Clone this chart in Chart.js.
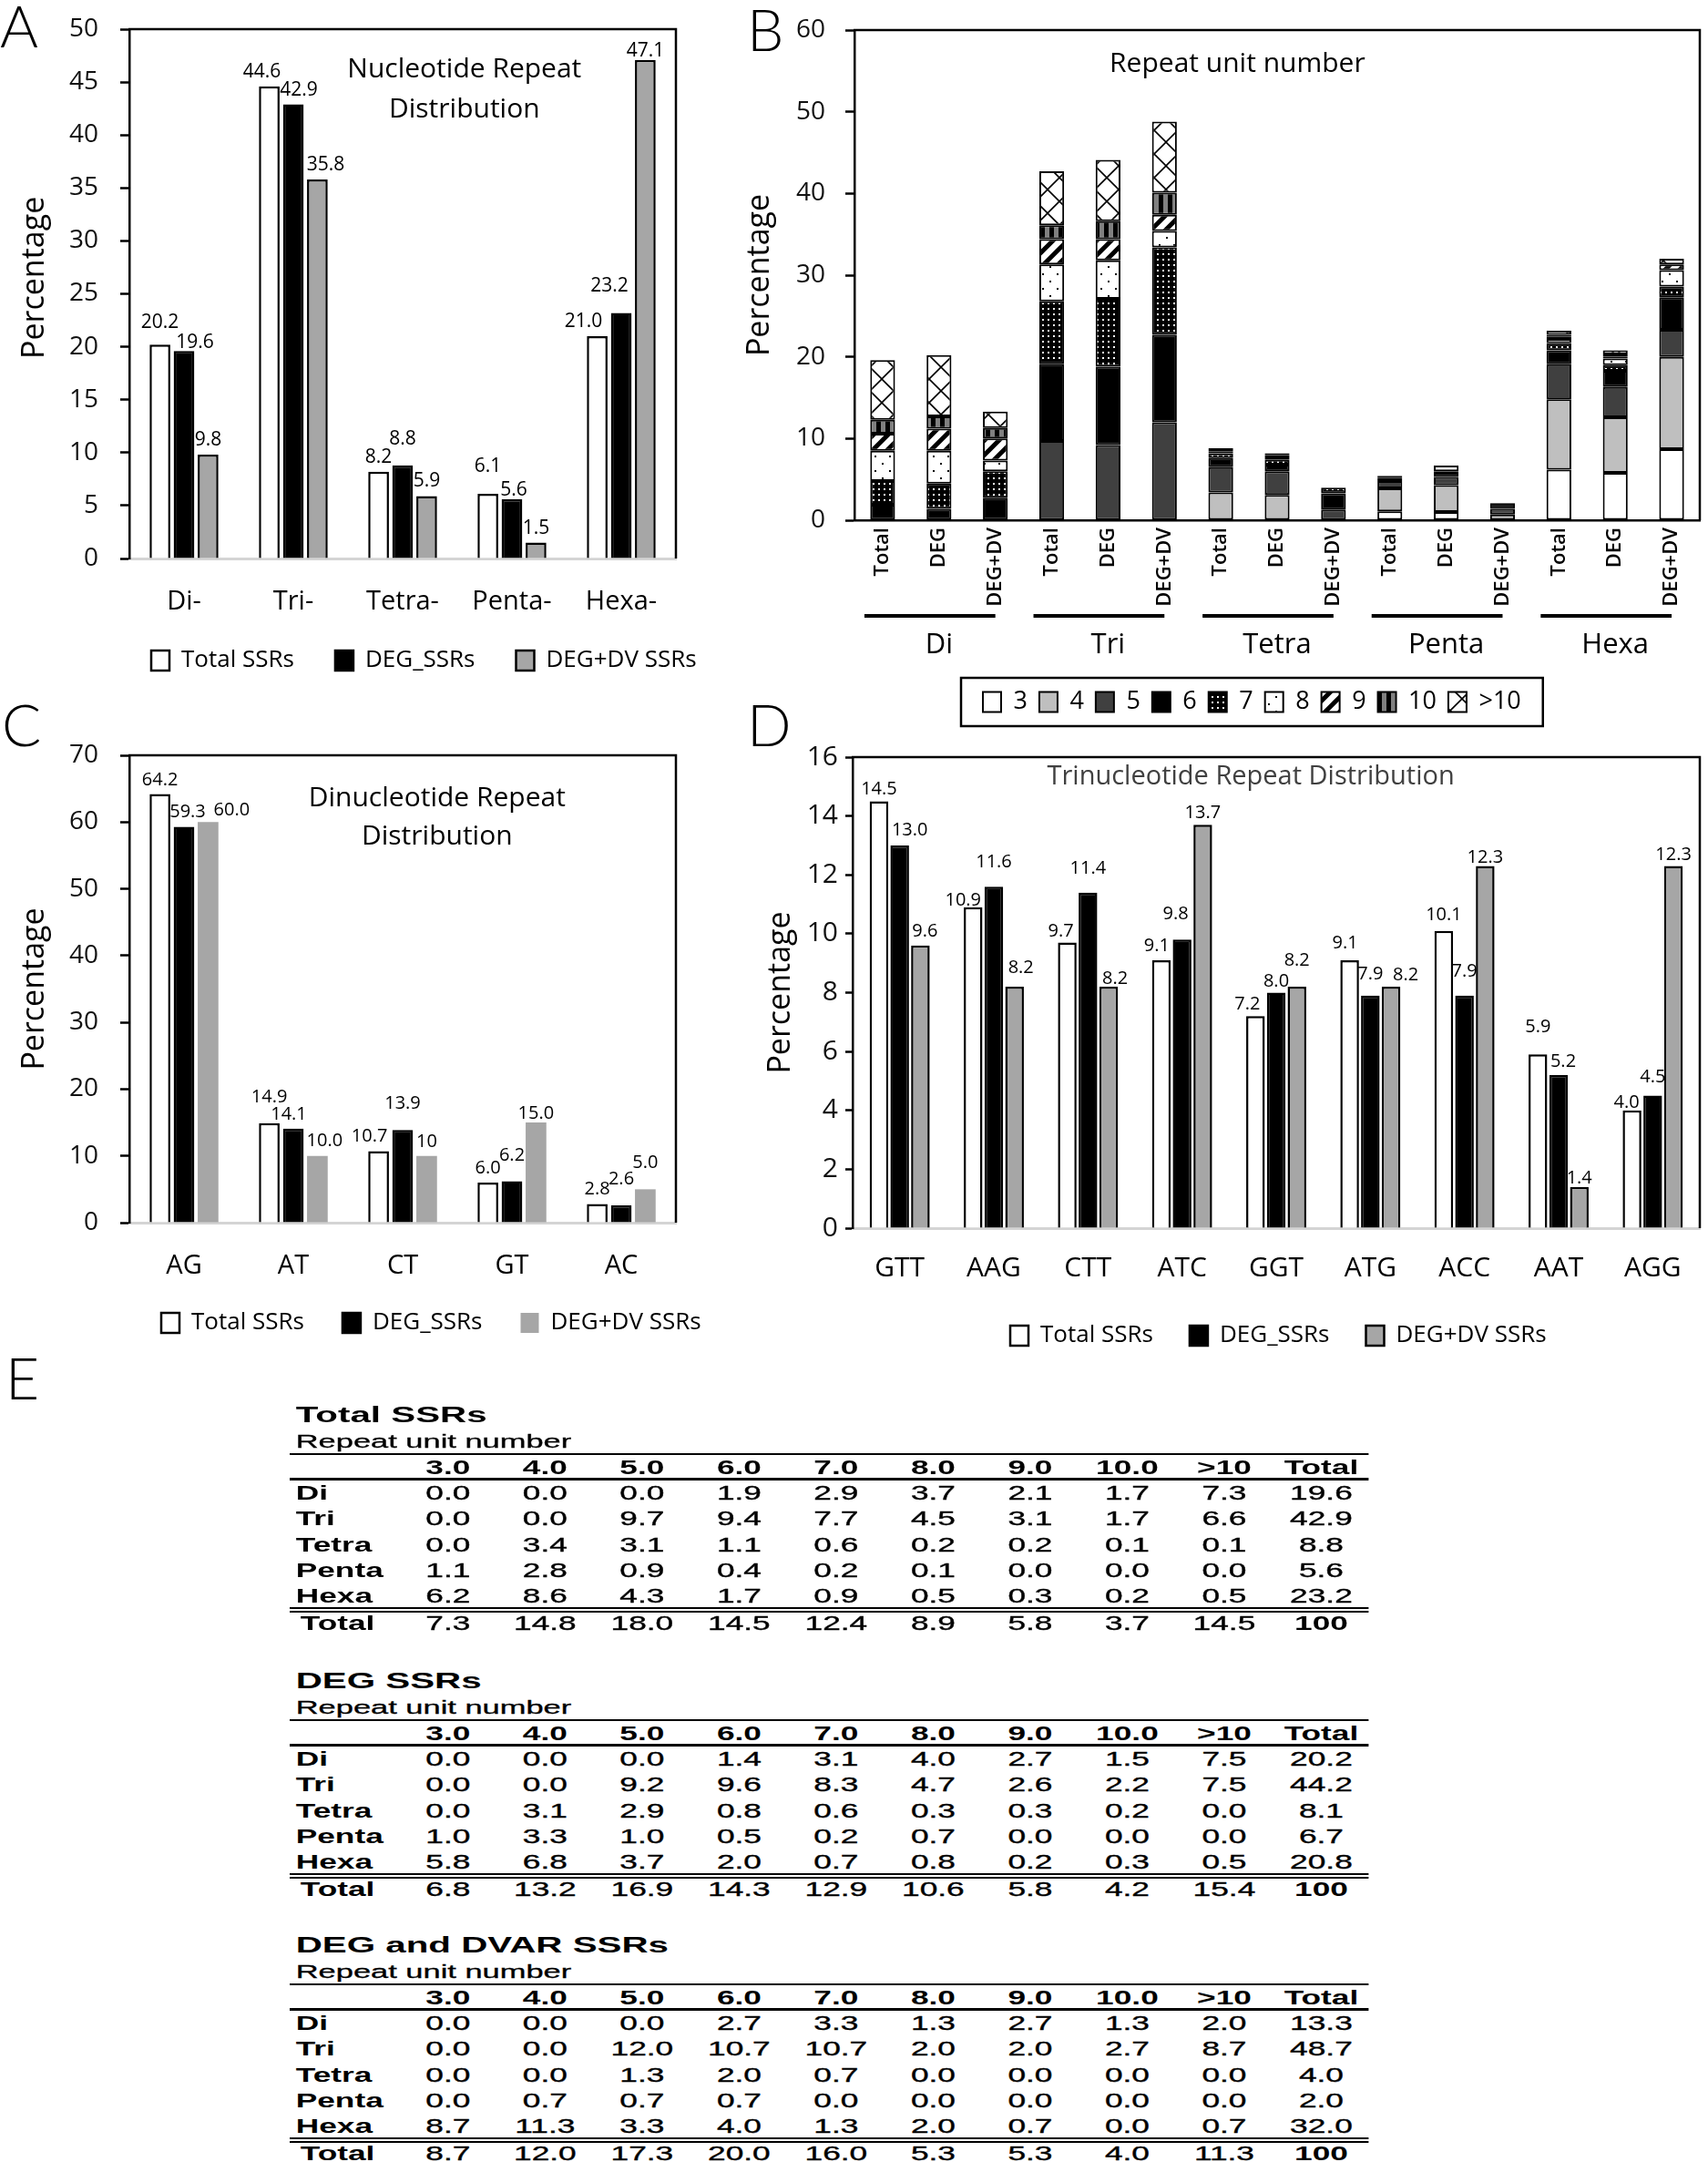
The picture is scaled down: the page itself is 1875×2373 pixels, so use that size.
<!DOCTYPE html>
<html>
<head>
<meta charset="utf-8">
<title>SSR repeat distribution</title>
<script src="https://cdn.jsdelivr.net/npm/chart.js@4.4.1/dist/chart.umd.min.js"></script>
<style>
  html, body { margin: 0; padding: 0; background: #fff; }
  body { position: relative; width: 1875px; height: 2373px; overflow: hidden; }
  canvas { position: absolute; }
  .tag { position: absolute; font-family: Lato, 'Open Sans', sans-serif; font-weight: 300; font-size: 64px; line-height: 1; color: #000; }
  .ssr { position: absolute; left: 318px; width: 705px; height: 260px; transform: scaleX(1.68); transform-origin: 0 0;
         font-family: 'Liberation Sans', Arial, sans-serif; color: #000; }
  .ssr div { position: absolute; white-space: nowrap; }
  .ssr .ttl { left: 4px; top: 0; font-weight: bold; font-size: 24px; line-height: 30px; }
  .ssr .sub { left: 4px; top: 29px; font-size: 20.5px; line-height: 30px; -webkit-text-stroke: 0.3px #000; }
  .ssr .rule { left: 0; width: 705px; background: #000; }
  .ssr .cell { font-size: 21px; line-height: 28px; height: 28px; text-align: center; width: 63.4px;
               -webkit-text-stroke: 0.35px #000; transform: scaleY(1.08); }
  .ssr .lab { font-size: 21px; line-height: 28px; height: 28px; font-weight: bold; transform: scaleY(1.08); }
  .ssr .b { font-weight: bold; -webkit-text-stroke: 0; }
</style>
</head>
<body>
<canvas id="chartA" width="800" height="780" style="left:0;top:0"></canvas>
<canvas id="chartC" width="800" height="790" style="left:0;top:760px"></canvas>
<canvas id="chartD" width="1063" height="740" style="left:812px;top:780px"></canvas>
<canvas id="chartB" width="1063" height="820" style="left:812px;top:0"></canvas>
<div class="tag" style="left:0;top:-4px">A</div>
<div class="tag" style="left:820px;top:0">B</div>
<div class="tag" style="left:2px;top:763px">C</div>
<div class="tag" style="left:820px;top:763px">D</div>
<div class="tag" style="left:6px;top:1480px">E</div>
<div id="tables"></div>
<script>
// Panel A - nucleotide repeat distribution (%)
const sizeClasses = ['Di-', 'Tri-', 'Tetra-', 'Penta-', 'Hexa-'];
const nucTotal = [20.2, 44.6, 8.2, 6.1, 21.0];
const nucDeg = [19.6, 42.9, 8.8, 5.6, 23.2];
const nucDegDv = [9.8, 35.8, 5.9, 1.5, 47.1];

// Panel C - dinucleotide motifs (%)
const diMotifs = ['AG', 'AT', 'CT', 'GT', 'AC'];
const diTotal = [64.2, 14.9, 10.7, 6.0, 2.8];
const diDeg = [59.3, 14.1, 13.9, 6.2, 2.6];
const diDegDv = [60.0, 10.0, 10, 15.0, 5.0];
const diDegDvText = ['60.0', '10.0', '10', '15.0', '5.0'];

// Panel D - trinucleotide motifs (%)
const triMotifs = ['GTT', 'AAG', 'CTT', 'ATC', 'GGT', 'ATG', 'ACC', 'AAT', 'AGG'];
const triTotal = [14.5, 10.9, 9.7, 9.1, 7.2, 9.1, 10.1, 5.9, 4.0];
const triDeg = [13.0, 11.6, 11.4, 9.8, 8.0, 7.9, 7.9, 5.2, 4.5];
const triDegDv = [9.6, 8.2, 8.2, 13.7, 8.2, 8.2, 12.3, 1.4, 12.3];

// Panels B and E - repeat unit number tables (columns 3..>10, then row total)
const repeatClasses = ['Di', 'Tri', 'Tetra', 'Penta', 'Hexa'];
const subsets = ['Total', 'DEG', 'DEG+DV'];
const unitLabels = ['3', '4', '5', '6', '7', '8', '9', '10', '>10'];
const tableHeads = ['3.0', '4.0', '5.0', '6.0', '7.0', '8.0', '9.0', '10.0', '>10', 'Total'];

const totalSsrRows = [
    [0.0, 0.0, 0.0, 1.9, 2.9, 3.7, 2.1, 1.7, 7.3, 19.6],
    [0.0, 0.0, 9.7, 9.4, 7.7, 4.5, 3.1, 1.7, 6.6, 42.9],
    [0.0, 3.4, 3.1, 1.1, 0.6, 0.2, 0.2, 0.1, 0.1, 8.8],
    [1.1, 2.8, 0.9, 0.4, 0.2, 0.1, 0.0, 0.0, 0.0, 5.6],
    [6.2, 8.6, 4.3, 1.7, 0.9, 0.5, 0.3, 0.2, 0.5, 23.2]
];
const totalSsrSums = [7.3, 14.8, 18.0, 14.5, 12.4, 8.9, 5.8, 3.7, 14.5, 100];

const degSsrRows = [
    [0.0, 0.0, 0.0, 1.4, 3.1, 4.0, 2.7, 1.5, 7.5, 20.2],
    [0.0, 0.0, 9.2, 9.6, 8.3, 4.7, 2.6, 2.2, 7.5, 44.2],
    [0.0, 3.1, 2.9, 0.8, 0.6, 0.3, 0.3, 0.2, 0.0, 8.1],
    [1.0, 3.3, 1.0, 0.5, 0.2, 0.7, 0.0, 0.0, 0.0, 6.7],
    [5.8, 6.8, 3.7, 2.0, 0.7, 0.8, 0.2, 0.3, 0.5, 20.8]
];
const degSsrSums = [6.8, 13.2, 16.9, 14.3, 12.9, 10.6, 5.8, 4.2, 15.4, 100];

const dvSsrRows = [
    [0.0, 0.0, 0.0, 2.7, 3.3, 1.3, 2.7, 1.3, 2.0, 13.3],
    [0.0, 0.0, 12.0, 10.7, 10.7, 2.0, 2.0, 2.7, 8.7, 48.7],
    [0.0, 0.0, 1.3, 2.0, 0.7, 0.0, 0.0, 0.0, 0.0, 4.0],
    [0.0, 0.7, 0.7, 0.7, 0.0, 0.0, 0.0, 0.0, 0.0, 2.0],
    [8.7, 11.3, 3.3, 4.0, 1.3, 2.0, 0.7, 0.0, 0.7, 32.0]
];
const dvSsrSums = [8.7, 12.0, 17.3, 20.0, 16.0, 5.3, 5.3, 4.0, 11.3, 100];

// hand-moved value labels, as in the original figure ("dataset:index" -> [dx, dy] px)
const labelNudges = {
    chartA: {
        '0:0': [0, -8], '1:0': [12, 7], '0:1': [-8, 0], '1:1': [6, 0], '2:1': [9, 0],
        '1:2': [0, -13], '0:3': [0, -14], '1:3': [2, 6], '0:4': [-15, 0], '1:4': [-13, -13], '2:4': [0, 6]
    },
    chartC: {
        '1:0': [4, 0], '2:0': [26, 3], '0:1': [0, -13], '1:1': [-5, 0], '2:1': [8, -1],
        '0:2': [-10, -1], '1:2': [0, -13], '1:3': [0, -13], '2:3': [0, 6], '1:4': [0, -13], '2:4': [0, -13]
    },
    chartD: {
        '1:0': [11, -4], '2:0': [5, -3], '0:1': [-11, 5], '1:1': [0, -14], '2:1': [7, -8],
        '0:2': [-7, 0], '1:2': [0, -14], '2:2': [7, 4], '0:3': [-5, -3], '1:3': [-7, -15],
        '0:4': [-9, 0], '2:4': [0, -16], '0:5': [-5, -6], '1:5': [0, -11], '2:5': [16, 0],
        '0:6': [0, -5], '1:6': [0, -14], '2:6': [0, 3], '0:7': [0, -17], '1:7': [5, -2],
        '2:7': [0, 3], '0:8': [-6, 4], '1:8': [0, -8]
    }
};

Chart.defaults.animation = false;
Chart.defaults.responsive = false;
Chart.defaults.color = '#000';
Chart.defaults.font.family = "'Open Sans', 'Noto Sans', sans-serif";
Chart.defaults.plugins.tooltip.enabled = false;

const SANS = "'Open Sans', 'Noto Sans', sans-serif";

// top + right border of the plot box
const frame = {
    id: 'frame',
    afterDatasetsDraw(chart) {
        const {ctx, chartArea: a} = chart;
        ctx.save();
        ctx.strokeStyle = '#000';
        ctx.lineWidth = 2.5;
        ctx.beginPath();
        ctx.moveTo(a.left - 1, a.top);
        ctx.lineTo(a.right, a.top);
        ctx.lineTo(a.right, a.bottom);
        ctx.stroke();
        ctx.restore();
    }
};

// title written inside the plot area
const innerTitle = {
    id: 'innerTitle',
    afterDraw(chart, args, opts) {
        const {ctx, chartArea: a} = chart;
        ctx.save();
        ctx.font = opts.fontCss;
        ctx.fillStyle = opts.color;
        ctx.textAlign = 'center';
        ctx.textBaseline = 'middle';
        const x = a.left + a.width * opts.x;
        opts.text.split('\n').forEach((t, i) => {
            ctx.fillText(t, x, a.top + opts.y + i * opts.lineHeight);
        });
        ctx.restore();
    }
};

// numbers above the bars
const valueLabels = {
    id: 'valueLabels',
    afterDatasetsDraw(chart, args, opts) {
        const ctx = chart.ctx;
        const nudge = labelNudges[chart.canvas.id] || {};
        ctx.save();
        ctx.font = opts.fontCss;
        ctx.fillStyle = '#000';
        ctx.textAlign = 'center';
        ctx.textBaseline = 'alphabetic';
        chart.data.datasets.forEach((ds, i) => {
            const texts = ds.valueText || ds.data.map(v => v.toFixed(1));
            chart.getDatasetMeta(i).data.forEach((bar, j) => {
                const [dx, dy] = nudge[i + ':' + j] || [0, 0];
                ctx.fillText(texts[j], bar.x + dx, bar.y - opts.gap + dy);
            });
        });
        ctx.restore();
    }
};

// fixed legend height for layout, then move the legend where it belongs
const legendSpot = {
    id: 'legendSpot',
    beforeInit(chart, args, opts) {
        const fitValue = chart.legend.fit;
        chart.legend.fit = function fit() {
            fitValue.bind(chart.legend)();
            this.height = opts.height;
        };
    },
    afterLayout(chart, args, opts) {
        const lg = chart.legend;
        const w = lg.right - lg.left;
        lg.left = opts.x;
        lg.right = opts.x + w;
        lg.top = opts.y;
        lg.bottom = opts.y + 110;
    },
    afterDraw(chart, args, opts) {
        if (!opts.box) return;
        const lg = chart.legend;
        const pad = lg.options.labels.padding;
        const ctx = chart.ctx;
        ctx.save();
        ctx.strokeStyle = '#000';
        ctx.lineWidth = 2.5;
        ctx.strokeRect(lg.left + pad - opts.box, lg.top, lg.lineWidths[0] - pad + 2 * opts.box, opts.boxHeight);
        ctx.restore();
    }
};

// Di / Tri / ... group lines under the rotated labels of panel B
const groupAxis = {
    id: 'groupAxis',
    afterDraw(chart, args, opts) {
        const {ctx, chartArea: a} = chart;
        const x = chart.scales.x;
        const n = subsets.length;
        ctx.save();
        ctx.strokeStyle = '#000';
        ctx.lineWidth = 4;
        ctx.font = opts.fontCss;
        ctx.fillStyle = '#000';
        ctx.textAlign = 'center';
        ctx.textBaseline = 'middle';
        repeatClasses.forEach((name, g) => {
            const x0 = x.getPixelForValue(g * n);
            const x1 = x.getPixelForValue(g * n + n - 1);
            ctx.beginPath();
            ctx.moveTo(x0 - opts.lead, a.bottom + opts.lineY);
            ctx.lineTo(x1, a.bottom + opts.lineY);
            ctx.stroke();
            ctx.fillText(name, (x0 + x1) / 2, a.bottom + opts.textY);
        });
        ctx.restore();
    }
};

function fixedWidth(w) {
    return s => {
        s.width = w;
        s.paddingTop = 0;
        s.paddingBottom = 0;
    };
}

function groupedOptions(p) {
    return {
        layout: {padding: {left: 0, top: p.top, right: p.right, bottom: p.bottom}},
        datasets: {bar: {categoryPercentage: p.cat, barPercentage: p.bar}},
        scales: {
            x: {
                grid: {display: false, drawTicks: false},
                border: {color: '#d4d4d4', width: 3},
                ticks: {color: '#000', font: {family: SANS, size: p.xSize}, padding: p.xPad},
                afterFit: s => { s.height = 80; }
            },
            y: {
                min: 0,
                max: p.max,
                border: {color: '#000', width: 2.5},
                grid: {drawOnChartArea: false, tickLength: p.tick, tickWidth: 2.5, tickColor: '#000'},
                ticks: {stepSize: p.step, color: '#111', font: {family: SANS, size: p.ySize}, padding: p.yPad},
                title: {display: true, text: p.yTitle, color: '#000', font: {family: SANS, size: 34}, padding: {top: p.titlePad, bottom: 0}},
                afterFit: fixedWidth(p.yWidth)
            }
        },
        plugins: {
            legend: {
                position: 'bottom',
                align: 'start',
                labels: {color: '#000', boxWidth: 20, boxHeight: 22, padding: p.legPad, font: {family: SANS, size: p.legSize}}
            },
            legendSpot: {x: p.legX, y: p.legY, height: 60},
            innerTitle: {text: p.title, fontCss: p.titleFont, color: p.titleColor, x: p.titleX, y: p.titleY, lineHeight: p.titleLh},
            valueLabels: {fontCss: p.valFont, gap: p.gap}
        }
    };
}

function threeSets(total, deg, dv, dvBorder) {
    return [
        {label: 'Total SSRs', data: total, backgroundColor: '#fff', borderColor: '#000', borderWidth: 2.5},
        {label: 'DEG_SSRs', data: deg, backgroundColor: '#000', borderColor: '#000', borderWidth: 2.5},
        {label: 'DEG+DV SSRs', data: dv, backgroundColor: '#a6a6a6', borderColor: '#000', borderWidth: dvBorder}
    ];
}

// Panel A (leading blanks lift the axis title a little, as in the figure)
const chartA = new Chart(document.getElementById('chartA'), {
    type: 'bar',
    data: {labels: sizeClasses, datasets: threeSets(nucTotal, nucDeg, nucDegDv, 2.5)},
    options: groupedOptions({
        top: 32, right: 58, bottom: 27, yWidth: 142, max: 50, step: 5,
        cat: 0.66, bar: 0.86, xSize: 29, xPad: 30, ySize: 28, yPad: 24, tick: 10, titlePad: 18,
        yTitle: '    Percentage',
        legPad: 45, legSize: 26, legX: 121, legY: 667,
        title: 'Nucleotide Repeat\nDistribution', titleFont: '30px ' + SANS, titleColor: '#000',
        titleX: 0.613, titleY: 44, titleLh: 44,
        valFont: '21px ' + SANS, gap: 10
    }),
    plugins: [frame, valueLabels, innerTitle, legendSpot]
});

// Panel C
const setsC = threeSets(diTotal, diDeg, diDegDv, 0);
setsC[2].valueText = diDegDvText;
const chartC = new Chart(document.getElementById('chartC'), {
    type: 'bar',
    data: {labels: diMotifs, datasets: setsC},
    options: groupedOptions({
        top: 69, right: 58, bottom: 68, yWidth: 142, max: 70, step: 10,
        cat: 0.66, bar: 0.86, xSize: 29, xPad: 30, ySize: 28, yPad: 24, tick: 10, titlePad: 18,
        yTitle: 'Percentage',
        legPad: 42, legSize: 26, legX: 135, legY: 637,
        title: 'Dinucleotide Repeat\nDistribution', titleFont: '30px ' + SANS, titleColor: '#000',
        titleX: 0.563, titleY: 47, titleLh: 42,
        valFont: '20px ' + SANS, gap: 10
    }),
    plugins: [frame, valueLabels, innerTitle, legendSpot]
});

// Panel D
const chartD = new Chart(document.getElementById('chartD'), {
    type: 'bar',
    data: {labels: triMotifs, datasets: threeSets(triTotal, triDeg, triDegDv, 2.5)},
    options: groupedOptions({
        top: 51, right: 9, bottom: 32, yWidth: 124, max: 16, step: 2,
        cat: 0.66, bar: 0.9, xSize: 30, xPad: 26, ySize: 30, yPad: 8, tick: 8, titlePad: 25,
        yTitle: 'Percentage',
        legPad: 40, legSize: 26, legX: 257, legY: 633,
        title: 'Trinucleotide Repeat Distribution', titleFont: '29px ' + SANS, titleColor: '#404040',
        titleX: 0.47, titleY: 22, titleLh: 40,
        valFont: '20px ' + SANS, gap: 7
    }),
    plugins: [frame, valueLabels, innerTitle, legendSpot]
});

// Panel B - fills for repeat unit numbers
function makePattern(w, h, draw) {
    const c = document.createElement('canvas');
    c.width = w;
    c.height = h;
    const g = c.getContext('2d');
    draw(g, w, h);
    return g.createPattern(c, 'repeat');
}
const dotsOnBlack = makePattern(6, 6, g => {
    g.fillStyle = '#000'; g.fillRect(0, 0, 6, 6);
    g.fillStyle = '#fff'; g.fillRect(2, 2, 2, 2);
});
const sparseDots = makePattern(16, 16, g => {
    g.fillStyle = '#fff'; g.fillRect(0, 0, 16, 16);
    g.fillStyle = '#000'; g.fillRect(4, 4, 2, 2); g.fillRect(12, 12, 2, 2);
});
const wideDiagonal = makePattern(16, 16, g => {
    g.fillStyle = '#fff'; g.fillRect(0, 0, 16, 16);
    g.strokeStyle = '#000'; g.lineWidth = 5;
    g.beginPath();
    g.moveTo(-8, 8); g.lineTo(8, -8);
    g.moveTo(0, 16); g.lineTo(16, 0);
    g.moveTo(8, 24); g.lineTo(24, 8);
    g.stroke();
});
const verticalStripes = makePattern(10, 4, g => {
    g.fillStyle = '#000'; g.fillRect(0, 0, 10, 4);
    g.fillStyle = '#808080'; g.fillRect(5, 0, 5, 4);
});
const crossHatch = makePattern(26, 26, g => {
    g.fillStyle = '#fff'; g.fillRect(0, 0, 26, 26);
    g.strokeStyle = '#000'; g.lineWidth = 1.6;
    g.beginPath();
    g.moveTo(0, 0); g.lineTo(26, 26);
    g.moveTo(26, 0); g.lineTo(0, 26);
    g.stroke();
});
const unitFills = ['#ffffff', '#bfbfbf', '#404040', '#000000', dotsOnBlack, sparseDots, wideDiagonal, verticalStripes, crossHatch];

const stackSets = unitLabels.map((u, k) => ({
    label: u,
    data: repeatClasses.flatMap((_, g) => [totalSsrRows[g][k], degSsrRows[g][k], dvSsrRows[g][k]]),
    backgroundColor: unitFills[k],
    borderColor: '#000',
    borderWidth: 2,
    borderSkipped: false
}));

const chartB = new Chart(document.getElementById('chartB'), {
    type: 'bar',
    data: {labels: repeatClasses.flatMap(() => subsets), datasets: stackSets},
    options: {
        layout: {padding: {left: 0, top: 33, right: 9, bottom: 39}},
        datasets: {bar: {categoryPercentage: 1, barPercentage: 0.44}},
        scales: {
            x: {
                stacked: true,
                grid: {display: false, drawTicks: false},
                border: {color: '#000', width: 2.5},
                ticks: {color: '#000', font: {family: SANS, size: 22, weight: '600'}, padding: 8,
                        minRotation: 90, maxRotation: 90, autoSkip: false},
                afterFit: s => { s.height = 150; }
            },
            y: {
                stacked: true,
                min: 0,
                max: 60,
                border: {color: '#000', width: 2.5},
                grid: {drawOnChartArea: false, tickLength: 10, tickWidth: 2.5, tickColor: '#000'},
                ticks: {stepSize: 10, color: '#111', font: {family: SANS, size: 28}, padding: 22},
                title: {display: true, text: 'Percentage', color: '#000', font: {family: SANS, size: 34}, padding: {top: 2, bottom: 0}},
                afterFit: fixedWidth(126)
            }
        },
        plugins: {
            legend: {
                position: 'bottom',
                align: 'start',
                labels: {color: '#000', boxWidth: 20, boxHeight: 22, padding: 13, font: {family: SANS, size: 27}}
            },
            legendSpot: {x: 254, y: 744, height: 60, box: 24, boxHeight: 53},
            innerTitle: {text: 'Repeat unit number', fontCss: '30px ' + SANS, color: '#000', x: 0.453, y: 37, lineHeight: 40},
            groupAxis: {fontCss: '31px ' + SANS, lead: 20, lineY: 105, textY: 137}
        }
    },
    plugins: [frame, innerTitle, groupAxis, legendSpot]
});

// Panel E - the three tables
function fmt(v) {
    return v === 100 ? '100' : v.toFixed(1);
}
function buildTable(top, title, rows, sums) {
    const box = document.createElement('div');
    box.className = 'ssr';
    box.style.top = top + 'px';
    let html = '<div class="ttl">' + title + '</div><div class="sub">Repeat unit number</div>';
    html += '<div class="rule" style="top:57px;height:2px"></div>';
    html += '<div class="rule" style="top:84px;height:3px"></div>';
    html += '<div class="rule" style="top:226px;height:2px"></div>';
    html += '<div class="rule" style="top:230px;height:2px"></div>';
    const colLeft = k => (103.5 + 63.4 * k - 31.7).toFixed(1);
    tableHeads.forEach((h, k) => {
        html += '<div class="cell b" style="top:58px;left:' + colLeft(k) + 'px">' + h + '</div>';
    });
    rows.forEach((row, r) => {
        const y = (100 + 28.3 * r - 14).toFixed(1);
        html += '<div class="lab" style="top:' + y + 'px;left:4px">' + repeatClasses[r] + '</div>';
        row.forEach((v, k) => {
            html += '<div class="cell" style="top:' + y + 'px;left:' + colLeft(k) + 'px">' + fmt(v) + '</div>';
        });
    });
    html += '<div class="lab" style="top:229px;left:7px">Total</div>';
    sums.forEach((v, k) => {
        html += '<div class="cell' + (v === 100 ? ' b' : '') + '" style="top:229px;left:' + colLeft(k) + 'px">' + fmt(v) + '</div>';
    });
    box.innerHTML = html;
    document.getElementById('tables').appendChild(box);
}
buildTable(1538, 'Total SSRs', totalSsrRows, totalSsrSums);
buildTable(1830, 'DEG SSRs', degSsrRows, degSsrSums);
buildTable(2120, 'DEG and DVAR SSRs', dvSsrRows, dvSsrSums);
</script>
</body>
</html>
